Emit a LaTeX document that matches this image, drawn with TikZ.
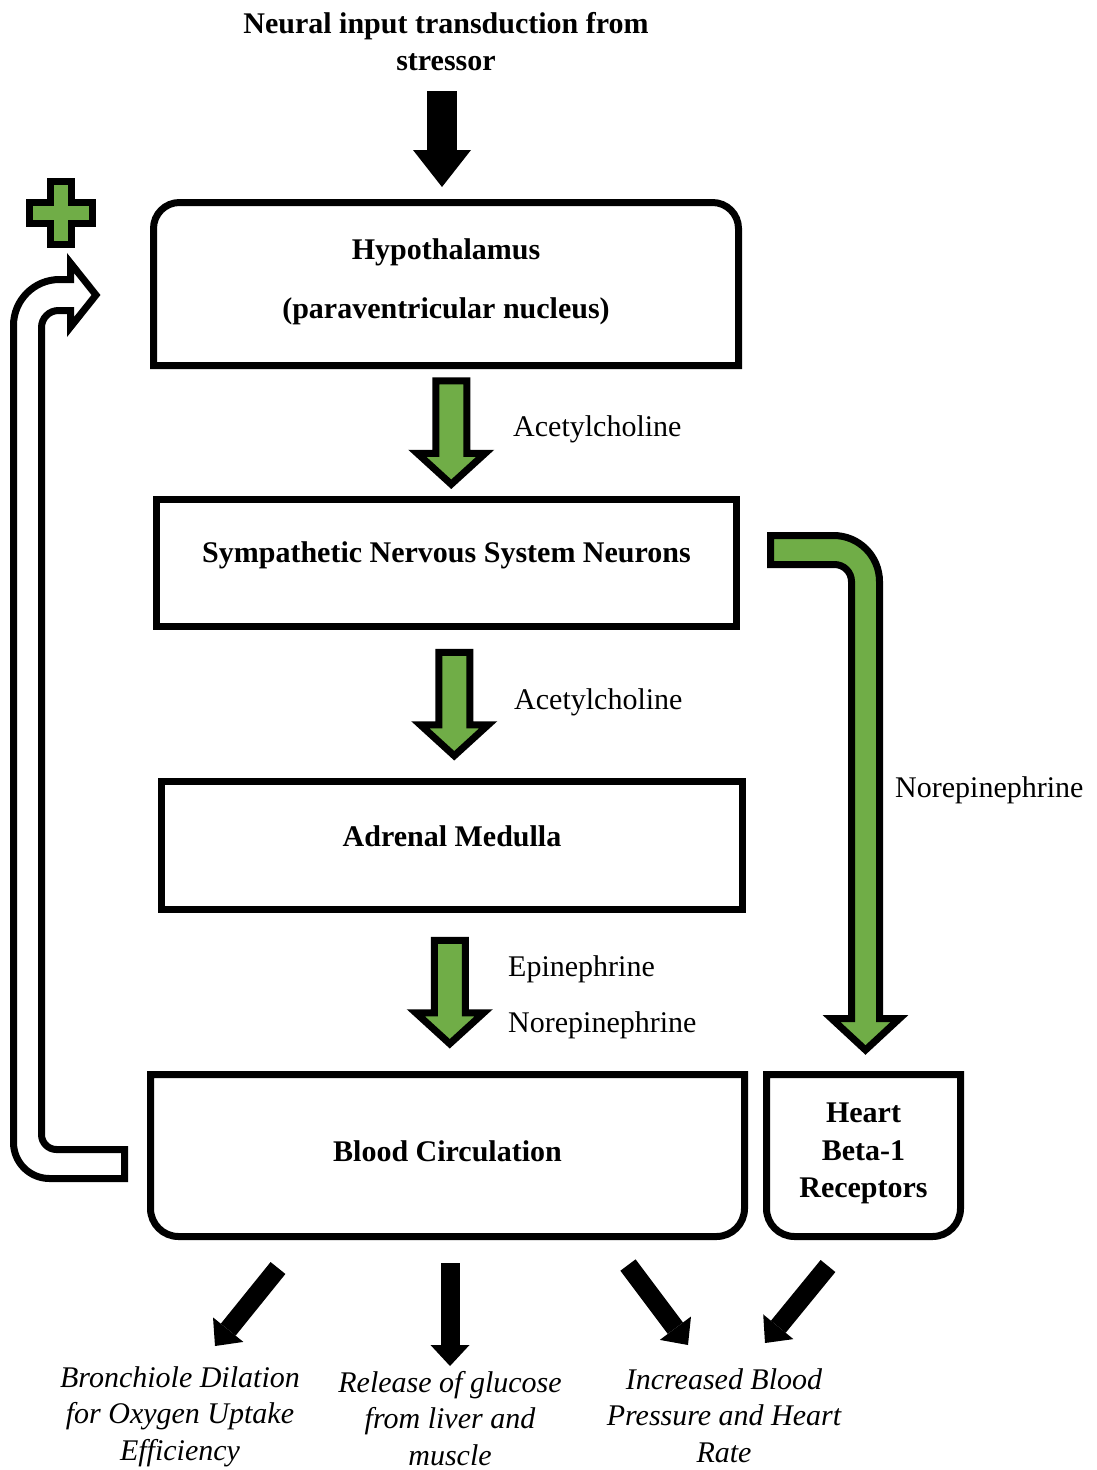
\documentclass[tikz,border=0pt]{standalone}
\usepackage{fontspec}
\setmainfont{Liberation Serif}
\usetikzlibrary{arrows.meta,calc}

\definecolor{stressgreen}{HTML}{70AD47}

\tikzset{
  organ/.style={line width=7pt, inner sep=0pt, outer sep=0pt},
  organtext/.style={inner sep=0pt, align=center, font=\fontsize{30}{37.5}\selectfont\bfseries},
  hormone/.style={anchor=west, inner sep=0pt, font=\fontsize{30}{37.5}\selectfont},
  effect/.style={anchor=north, inner sep=0pt, align=center, font=\fontsize{30}{36.5}\selectfont\itshape},
  greenshape/.style={fill=stressgreen, draw=black, line width=7pt, line join=miter},
  whiteshape/.style={fill=white, draw=black, line width=7pt, line join=miter},
  effectarrow/.style={line width=19pt, -{Triangle[width=39pt,length=21pt,line width=0pt]}},
  inputarrow/.style={line width=30pt, -{Triangle[width=58pt,length=37pt,line width=0pt]}},
}

% fat green arrow pointing down between two boxes
\newcommand{\greendown}[3][0pt]{%
  \filldraw[greenshape] let \p1=($(#2.south)!0.5!(#3.north)$) in
    (\x1+#1-15.5pt,\y1+51.75pt) -- (\x1+#1+15.5pt,\y1+51.75pt) -- (\x1+#1+15.5pt,\y1-20.75pt)
    -- (\x1+#1+34pt,\y1-20.75pt) -- (\x1+#1,\y1-51.75pt) -- (\x1+#1-34pt,\y1-20.75pt)
    -- (\x1+#1-15.5pt,\y1-20.75pt) -- cycle;
}

\begin{document}
\begin{tikzpicture}[x=1pt, y=-1pt]
  \useasboundingbox (0,0) rectangle (1096,1470);

  \node[organtext, anchor=north] (title) at (446,12) {Neural input transduction from\\stressor};

  % boxes
  \node[organ, minimum width=585pt, minimum height=163pt,
        label={[organtext, yshift=2pt]center:Hypothalamus\\[21pt](paraventricular nucleus)}] (hyp) at (446,284) {};
  \draw[line width=7pt] (hyp.south west) [rounded corners=26pt] -- (hyp.north west) -- (hyp.north east) [sharp corners] -- (hyp.south east) -- cycle;
  \node[organ, draw, minimum width=580pt, minimum height=127pt,
        label={[organtext, yshift=7.5pt]center:Sympathetic Nervous System Neurons}] (sns) at (446.5,563) {};
  \node[organ, draw, minimum width=581pt, minimum height=128pt,
        label={[organtext, yshift=9pt]center:Adrenal Medulla}] (adr) at (452,845.5) {};
  \node[organ, minimum width=594pt, minimum height=162pt,
        label={[organtext, yshift=4pt]center:Blood Circulation}] (blood) at (447.5,1155.5) {};
  \draw[line width=7pt] (blood.north west) [rounded corners=28pt] -- (blood.south west) -- (blood.south east) [sharp corners] -- (blood.north east) -- cycle;
  \node[organ, minimum width=194pt, minimum height=162pt,
        label={[organtext, yshift=2pt]center:Heart\\Beta-1\\Receptors}] (heart) at (863.5,1155.5) {};
  \draw[line width=7pt] (heart.north west) [rounded corners=28pt] -- (heart.south west) -- (heart.south east) [sharp corners] -- (heart.north east) -- cycle;

  % effects
  \node[effect] (bronch) at (180,1366) {Bronchiole Dilation\\for Oxygen Uptake\\Efficiency};
  \node[effect] (glucose) at (450,1371) {Release of glucose\\from liver and\\muscle};
  \node[effect] (pressure) at (724,1368) {Increased Blood\\Pressure and Heart\\Rate};

  % input from stressor
  \draw[inputarrow] ([xshift=-4pt,yshift=-20pt]title.south) -- ([xshift=-4pt,yshift=15.5pt]hyp.north);

  % green arrows with labels
  \greendown[5pt]{hyp}{sns}
  \node[hormone] (ach1) at (513,429) {Acetylcholine};
  \greendown[5pt]{sns}{adr}
  \node[hormone] (ach2) at (514,702) {Acetylcholine};
  \greendown{adr}{blood}
  \node[hormone] (epi) at (508,969) {Epinephrine};
  \node[hormone] (norepi1) at (508,1025) {Norepinephrine};

  \filldraw[greenshape] let \p1=(sns.east), \p2=(heart.north) in
    (\x1+34pt,\y1+27.5pt) [rounded corners=46pt] -- (\x2+16pt,\y1+27.5pt) [sharp corners] -- (\x2+16pt,\y2+56pt)
    -- (\x2+36pt,\y2+56pt) -- (\x2+2pt,\y2+24.5pt) -- (\x2-32pt,\y2+56pt) -- (\x2-12pt,\y2+56pt)
    [rounded corners=17pt] -- (\x2-12pt,\y1-1.5pt) [sharp corners] -- (\x1+34pt,\y1-1.5pt) -- cycle;
  \node[hormone] (norepi2) at (895,790) {Norepinephrine};

  % feedback to hypothalamus
  \filldraw[whiteshape] let \p1=(blood.west), \p2=(hyp.west) in
    (\x1-26pt,\y1+6pt) [rounded corners=15pt] -- (41.5pt,\y1+6pt) [rounded corners=17pt] -- (41.5pt,\y2-26.5pt)
    [sharp corners] -- (70.5pt,\y2-26.5pt) -- (70.5pt,\y2-43pt) -- (\x2-57.5pt,\y2-11pt) -- (70.5pt,\y2+21pt)
    -- (70.5pt,\y2+4.5pt) [rounded corners=46pt] -- (13.5pt,\y2+4.5pt) [rounded corners=36pt] -- (13.5pt,\y1-23pt)
    [sharp corners] -- (\x1-26pt,\y1-23pt) -- cycle;
  \filldraw[greenshape] (50.5,181) -- (71.5,181) -- (71.5,202) -- (92.5,202) -- (92.5,223) -- (71.5,223)
    -- (71.5,244) -- (50.5,244) -- (50.5,223) -- (29.5,223) -- (29.5,202) -- (50.5,202) -- cycle;

  % outcomes
  \draw[effectarrow] ([xshift=-169.5pt,yshift=-31.5pt]blood.south) -- ([xshift=35pt,yshift=20pt]bronch.north);
  \draw[effectarrow] ([xshift=2.5pt,yshift=-26.5pt]blood.south) -- ([yshift=5pt]glucose.north);
  \draw[effectarrow] ([xshift=180.5pt,yshift=-28.5pt]blood.south) -- ([xshift=-36pt,yshift=23pt]pressure.north);
  \draw[effectarrow] ([xshift=-35.5pt,yshift=-29.5pt]heart.south) -- ([xshift=41pt,yshift=25pt]pressure.north);
\end{tikzpicture}
\end{document}
